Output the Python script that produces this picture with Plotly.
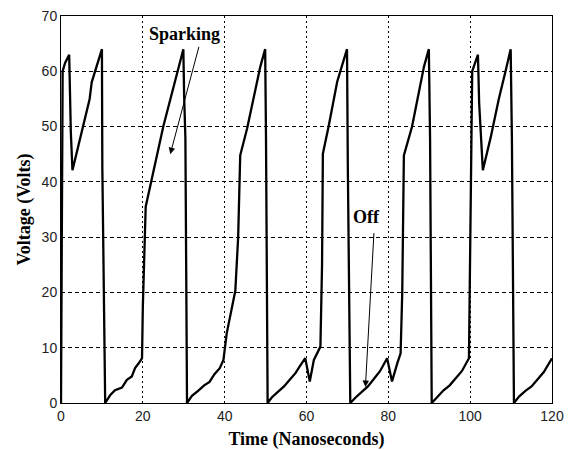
import plotly.graph_objects as go

# Time (ns) and voltage (V)
time_ns = [
    0, 0.2, 0.4, 1.0, 2.0, 2.2, 2.4, 2.8, 4.5, 5.9, 7.0, 7.5, 10.0,
    10.1, 10.5, 10.8,
    12.0, 13.2, 14.9, 16.1, 17.3, 18.1, 19.3, 19.8,
    20.0, 20.3, 20.7, 25.0, 29.1, 29.9,
    30.1, 30.4, 30.8,
    32.0, 33.5, 35.0, 36.3, 37.5, 38.8, 39.7,
    40.5, 41.5, 42.6, 43.3, 43.8, 45.5, 48.7, 49.9,
    50.1, 50.5,
    51.5, 53.0, 54.5, 56.0, 57.3, 58.5, 59.7,
    60.8, 61.8, 63.4,
    63.8, 64.0, 65.4, 67.5, 69.9,
    70.1, 70.7,
    72.0, 73.5, 75.0, 76.5, 78.0, 79.7,
    80.9, 82.2, 83.0,
    83.4, 83.8, 85.8, 88.7, 89.9,
    90.2, 90.6,
    92.0, 93.5, 95.0, 96.5, 98.0, 99.7,
    100.1, 100.3, 100.5, 101.9, 102.2, 102.6, 103.1, 105.0, 107.0, 108.7, 109.9,
    110.2, 110.7,
    112.0, 113.5, 115.0, 116.5, 118.0, 120.0,
]
voltage_v = [
    0, 40, 60, 61.5, 63, 56, 49, 42.1, 47.5, 52, 55, 58, 64,
    42.7, 21.3, 0,
    1.4, 2.3, 2.8, 4.2, 4.8, 6.3, 7.5, 8.1,
    17.4, 26.2, 35.5, 50, 61.6, 64,
    55.4, 48, 0,
    1.3, 2.2, 3.2, 3.8, 5.2, 6.3, 7.8,
    12.6, 16.5, 20.3, 30, 44.8, 49.7, 60.8, 64,
    48.2, 0,
    1.0, 2.0, 3.0, 4.3, 5.4, 6.8, 8.1,
    3.9, 7.8, 10.2,
    25, 45.1, 50, 58.1, 64,
    42.7, 0,
    1.0, 2.0, 3.0, 4.4, 5.8, 8.1,
    3.9, 7.2, 9.0,
    20, 44.8, 50, 60.8, 64,
    47.9, 0,
    1.2, 2.3, 3.2, 4.5, 5.8, 8.1,
    30, 46.9, 60, 63, 54.2, 48.8, 42.1, 48, 55, 60.2, 64,
    47.9, 0,
    1.2, 2.2, 3.0, 4.3, 5.6, 8.1,
]

x_ticks = [0, 20, 40, 60, 80, 100, 120]
y_ticks = [0, 10, 20, 30, 40, 50, 60, 70]

fig = go.Figure()
fig.add_trace(go.Scatter(
    x=time_ns, y=voltage_v, mode="lines",
    line=dict(color="black", width=2.3),
    showlegend=False, hoverinfo="skip",
))

tick_font = dict(family="Liberation Sans, Arial, sans-serif", size=14, color="#222")
title_font = dict(family="Liberation Serif, Times New Roman, serif", size=18, color="black")

fig.update_xaxes(
    range=[0, 120], tickvals=x_ticks, ticktext=[str(v) for v in x_ticks],
    showgrid=True, gridcolor="black", gridwidth=1, griddash="2px,3px",
    showline=True, linecolor="black", linewidth=1, mirror=True,
    zeroline=False, tickfont=tick_font, automargin=False,
    title=dict(text="<b>Time (Nanoseconds)</b>", font=title_font, standoff=9),
)
fig.update_yaxes(
    range=[0, 70], tickvals=y_ticks, ticktext=[str(v) for v in y_ticks],
    showgrid=True, gridcolor="black", gridwidth=1, griddash="4px,3px",
    showline=True, linecolor="black", linewidth=1, mirror=True,
    zeroline=False, tickfont=tick_font, automargin=False,
    title=dict(text="<b>Voltage (Volts)</b>", font=title_font, standoff=6),
)

ann_font = dict(family="Liberation Serif, Times New Roman, serif", size=18, color="black")
fig.add_annotation(x=30.1, y=66.7, xref="x", yref="y", text="<b>Sparking</b>",
                   showarrow=False, font=ann_font)
fig.add_annotation(x=26.7, y=45, ax=33.8, ay=64.7, xref="x", yref="y",
                   axref="x", ayref="y", text="", showarrow=True,
                   arrowhead=2, arrowsize=1.3, arrowwidth=1, arrowcolor="black")
fig.add_annotation(x=74.7, y=33.6, xref="x", yref="y", text="<b>Off</b>",
                   showarrow=False, font=ann_font)
fig.add_annotation(x=74.4, y=2.9, ax=76.5, ay=31, xref="x", yref="y",
                   axref="x", ayref="y", text="", showarrow=True,
                   arrowhead=2, arrowsize=1.3, arrowwidth=1, arrowcolor="black")

fig.update_layout(
    width=571, height=450,
    margin=dict(l=61, r=19, t=16, b=47),
    plot_bgcolor="white", paper_bgcolor="white",
)

fig.write_html("out.html", config={"displayModeBar": False},
               post_script="document.body.style.margin='0';")
